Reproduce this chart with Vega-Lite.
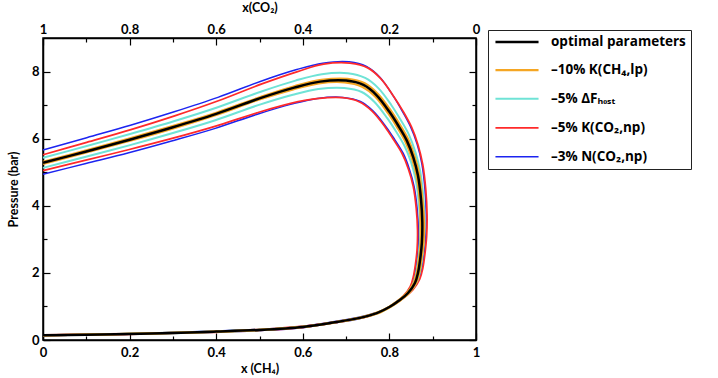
{
"$schema":"https://vega.github.io/schema/vega-lite/v6.json",
"width":433,"height":302,
"autosize":"none",
"padding":{"left":43,"top":38,"right":242,"bottom":38},
"background":"white",
"config":{
 "font":"Lato",
 "view":{"stroke":"black","strokeWidth":1.5},
 "axis":{"grid":false,"labelFont":"Lato","labelFontWeight":"bold","labelFontSize":13,"labelColor":"black","titleFont":"Lato","titleFontWeight":"bold","titleFontSize":12.5,"titleColor":"black","domainColor":"black","domainWidth":1.5,"tickColor":"black","tickWidth":1.2,"labelFlush":false,"labelOverlap":false},
 "legend":{"labelFont":"Open Sans","labelFontWeight":"bold","labelFontSize":13.5,"labelColor":"black"}
},
"data":{"values":[
{"s":"n","c":"n1","i":1,"x":0,"y":5.66},{"s":"n","c":"n1","i":2,"x":0.101,"y":6.03},{"s":"n","c":"n1","i":3,"x":0.202,"y":6.40},{"s":"n","c":"n1","i":4,"x":0.303,"y":6.80},{"s":"n","c":"n1","i":5,"x":0.404,"y":7.23},{"s":"n","c":"n1","i":6,"x":0.505,"y":7.72},{"s":"n","c":"n1","i":7,"x":0.586,"y":8.06},{"s":"n","c":"n1","i":8,"x":0.646,"y":8.25},{"s":"n","c":"n1","i":9,"x":0.707,"y":8.29},{"s":"n","c":"n1","i":10,"x":0.747,"y":8.15},{"s":"n","c":"n1","i":11,"x":0.778,"y":7.83},{"s":"n","c":"n1","i":12,"x":0.808,"y":7.29},{"s":"n","c":"n1","i":13,"x":0.828,"y":6.86},{"s":"n","c":"n1","i":14,"x":0.848,"y":6.38},{"s":"n","c":"n1","i":15,"x":0.864,"y":5.84},{"s":"n","c":"n1","i":16,"x":0.875,"y":5.25},{"s":"n","c":"n1","i":17,"x":0.882,"y":4.50},{"s":"n","c":"n1","i":18,"x":0.885,"y":3.75},{"s":"n","c":"n1","i":19,"x":0.884,"y":3.11},{"s":"n","c":"n1","i":20,"x":0.880,"y":2.57},{"s":"n","c":"n1","i":21,"x":0.875,"y":2.14},{"s":"n","c":"n1","i":22,"x":0.868,"y":1.82},{"s":"n","c":"n1","i":23,"x":0.851,"y":1.50},{"s":"n","c":"n1","i":24,"x":0.832,"y":1.28},{"s":"n","c":"n1","i":25,"x":0.809,"y":1.06},{"s":"n","c":"n1","i":26,"x":0.779,"y":0.86},{"s":"n","c":"n1","i":27,"x":0.739,"y":0.71},{"s":"n","c":"n1","i":28,"x":0.677,"y":0.56},{"s":"n","c":"n1","i":29,"x":0.606,"y":0.42},{"s":"n","c":"n1","i":30,"x":0.505,"y":0.32},{"s":"n","c":"n1","i":31,"x":0.404,"y":0.27},{"s":"n","c":"n1","i":32,"x":0.303,"y":0.23},{"s":"n","c":"n1","i":33,"x":0.202,"y":0.19},{"s":"n","c":"n1","i":34,"x":0.101,"y":0.17},{"s":"n","c":"n1","i":35,"x":0,"y":0.15},
{"s":"n","c":"n2","i":1,"x":0,"y":4.94},{"s":"n","c":"n2","i":2,"x":0.099,"y":5.26},{"s":"n","c":"n2","i":3,"x":0.198,"y":5.58},{"s":"n","c":"n2","i":4,"x":0.297,"y":5.93},{"s":"n","c":"n2","i":5,"x":0.396,"y":6.30},{"s":"n","c":"n2","i":6,"x":0.495,"y":6.73},{"s":"n","c":"n2","i":7,"x":0.574,"y":7.03},{"s":"n","c":"n2","i":8,"x":0.634,"y":7.20},{"s":"n","c":"n2","i":9,"x":0.693,"y":7.23},{"s":"n","c":"n2","i":10,"x":0.733,"y":7.11},{"s":"n","c":"n2","i":11,"x":0.762,"y":6.83},{"s":"n","c":"n2","i":12,"x":0.792,"y":6.36},{"s":"n","c":"n2","i":13,"x":0.812,"y":5.98},{"s":"n","c":"n2","i":14,"x":0.832,"y":5.56},{"s":"n","c":"n2","i":15,"x":0.846,"y":5.10},{"s":"n","c":"n2","i":16,"x":0.857,"y":4.58},{"s":"n","c":"n2","i":17,"x":0.864,"y":3.93},{"s":"n","c":"n2","i":18,"x":0.867,"y":3.27},{"s":"n","c":"n2","i":19,"x":0.866,"y":2.71},{"s":"n","c":"n2","i":20,"x":0.862,"y":2.24},{"s":"n","c":"n2","i":21,"x":0.857,"y":1.87},{"s":"n","c":"n2","i":22,"x":0.850,"y":1.59},{"s":"n","c":"n2","i":23,"x":0.835,"y":1.31},{"s":"n","c":"n2","i":24,"x":0.816,"y":1.11},{"s":"n","c":"n2","i":25,"x":0.793,"y":0.93},{"s":"n","c":"n2","i":26,"x":0.763,"y":0.75},{"s":"n","c":"n2","i":27,"x":0.725,"y":0.62},{"s":"n","c":"n2","i":28,"x":0.663,"y":0.49},{"s":"n","c":"n2","i":29,"x":0.594,"y":0.36},{"s":"n","c":"n2","i":30,"x":0.495,"y":0.28},{"s":"n","c":"n2","i":31,"x":0.396,"y":0.23},{"s":"n","c":"n2","i":32,"x":0.297,"y":0.20},{"s":"n","c":"n2","i":33,"x":0.198,"y":0.17},{"s":"n","c":"n2","i":34,"x":0.099,"y":0.15},{"s":"n","c":"n2","i":35,"x":0,"y":0.13},
{"s":"k","c":"k1","i":1,"x":0,"y":5.52},{"s":"k","c":"k1","i":2,"x":0.101,"y":5.89},{"s":"k","c":"k1","i":3,"x":0.203,"y":6.27},{"s":"k","c":"k1","i":4,"x":0.304,"y":6.68},{"s":"k","c":"k1","i":5,"x":0.405,"y":7.13},{"s":"k","c":"k1","i":6,"x":0.507,"y":7.64},{"s":"k","c":"k1","i":7,"x":0.588,"y":8.00},{"s":"k","c":"k1","i":8,"x":0.648,"y":8.22},{"s":"k","c":"k1","i":9,"x":0.709,"y":8.25},{"s":"k","c":"k1","i":10,"x":0.750,"y":8.11},{"s":"k","c":"k1","i":11,"x":0.780,"y":7.79},{"s":"k","c":"k1","i":12,"x":0.810,"y":7.26},{"s":"k","c":"k1","i":13,"x":0.831,"y":6.83},{"s":"k","c":"k1","i":14,"x":0.851,"y":6.35},{"s":"k","c":"k1","i":15,"x":0.866,"y":5.82},{"s":"k","c":"k1","i":16,"x":0.877,"y":5.23},{"s":"k","c":"k1","i":17,"x":0.884,"y":4.48},{"s":"k","c":"k1","i":18,"x":0.887,"y":3.73},{"s":"k","c":"k1","i":19,"x":0.886,"y":3.09},{"s":"k","c":"k1","i":20,"x":0.882,"y":2.56},{"s":"k","c":"k1","i":21,"x":0.877,"y":2.13},{"s":"k","c":"k1","i":22,"x":0.870,"y":1.81},{"s":"k","c":"k1","i":23,"x":0.854,"y":1.49},{"s":"k","c":"k1","i":24,"x":0.835,"y":1.27},{"s":"k","c":"k1","i":25,"x":0.811,"y":1.06},{"s":"k","c":"k1","i":26,"x":0.781,"y":0.85},{"s":"k","c":"k1","i":27,"x":0.742,"y":0.70},{"s":"k","c":"k1","i":28,"x":0.679,"y":0.55},{"s":"k","c":"k1","i":29,"x":0.608,"y":0.42},{"s":"k","c":"k1","i":30,"x":0.507,"y":0.32},{"s":"k","c":"k1","i":31,"x":0.405,"y":0.26},{"s":"k","c":"k1","i":32,"x":0.304,"y":0.22},{"s":"k","c":"k1","i":33,"x":0.203,"y":0.19},{"s":"k","c":"k1","i":34,"x":0.101,"y":0.17},{"s":"k","c":"k1","i":35,"x":0,"y":0.15},
{"s":"k","c":"k2","i":1,"x":0,"y":5.05},{"s":"k","c":"k2","i":2,"x":0.099,"y":5.36},{"s":"k","c":"k2","i":3,"x":0.197,"y":5.67},{"s":"k","c":"k2","i":4,"x":0.296,"y":6.00},{"s":"k","c":"k2","i":5,"x":0.395,"y":6.36},{"s":"k","c":"k2","i":6,"x":0.494,"y":6.77},{"s":"k","c":"k2","i":7,"x":0.572,"y":7.05},{"s":"k","c":"k2","i":8,"x":0.632,"y":7.19},{"s":"k","c":"k2","i":9,"x":0.691,"y":7.22},{"s":"k","c":"k2","i":10,"x":0.730,"y":7.10},{"s":"k","c":"k2","i":11,"x":0.760,"y":6.82},{"s":"k","c":"k2","i":12,"x":0.790,"y":6.35},{"s":"k","c":"k2","i":13,"x":0.809,"y":5.98},{"s":"k","c":"k2","i":14,"x":0.829,"y":5.56},{"s":"k","c":"k2","i":15,"x":0.844,"y":5.09},{"s":"k","c":"k2","i":16,"x":0.855,"y":4.58},{"s":"k","c":"k2","i":17,"x":0.862,"y":3.92},{"s":"k","c":"k2","i":18,"x":0.865,"y":3.27},{"s":"k","c":"k2","i":19,"x":0.864,"y":2.71},{"s":"k","c":"k2","i":20,"x":0.860,"y":2.24},{"s":"k","c":"k2","i":21,"x":0.855,"y":1.87},{"s":"k","c":"k2","i":22,"x":0.848,"y":1.59},{"s":"k","c":"k2","i":23,"x":0.832,"y":1.31},{"s":"k","c":"k2","i":24,"x":0.813,"y":1.11},{"s":"k","c":"k2","i":25,"x":0.791,"y":0.92},{"s":"k","c":"k2","i":26,"x":0.761,"y":0.75},{"s":"k","c":"k2","i":27,"x":0.722,"y":0.62},{"s":"k","c":"k2","i":28,"x":0.661,"y":0.49},{"s":"k","c":"k2","i":29,"x":0.592,"y":0.36},{"s":"k","c":"k2","i":30,"x":0.494,"y":0.28},{"s":"k","c":"k2","i":31,"x":0.395,"y":0.23},{"s":"k","c":"k2","i":32,"x":0.296,"y":0.20},{"s":"k","c":"k2","i":33,"x":0.197,"y":0.17},{"s":"k","c":"k2","i":34,"x":0.099,"y":0.15},{"s":"k","c":"k2","i":35,"x":0,"y":0.13},
{"s":"d","c":"d1","i":1,"x":0,"y":5.43},{"s":"d","c":"d1","i":2,"x":0.101,"y":5.78},{"s":"d","c":"d1","i":3,"x":0.201,"y":6.14},{"s":"d","c":"d1","i":4,"x":0.302,"y":6.52},{"s":"d","c":"d1","i":5,"x":0.402,"y":6.93},{"s":"d","c":"d1","i":6,"x":0.503,"y":7.40},{"s":"d","c":"d1","i":7,"x":0.583,"y":7.73},{"s":"d","c":"d1","i":8,"x":0.644,"y":7.92},{"s":"d","c":"d1","i":9,"x":0.704,"y":7.95},{"s":"d","c":"d1","i":10,"x":0.744,"y":7.81},{"s":"d","c":"d1","i":11,"x":0.775,"y":7.50},{"s":"d","c":"d1","i":12,"x":0.805,"y":6.99},{"s":"d","c":"d1","i":13,"x":0.825,"y":6.58},{"s":"d","c":"d1","i":14,"x":0.845,"y":6.12},{"s":"d","c":"d1","i":15,"x":0.860,"y":5.60},{"s":"d","c":"d1","i":16,"x":0.871,"y":5.04},{"s":"d","c":"d1","i":17,"x":0.878,"y":4.32},{"s":"d","c":"d1","i":18,"x":0.881,"y":3.60},{"s":"d","c":"d1","i":19,"x":0.880,"y":2.98},{"s":"d","c":"d1","i":20,"x":0.876,"y":2.47},{"s":"d","c":"d1","i":21,"x":0.871,"y":2.06},{"s":"d","c":"d1","i":22,"x":0.864,"y":1.75},{"s":"d","c":"d1","i":23,"x":0.848,"y":1.44},{"s":"d","c":"d1","i":24,"x":0.829,"y":1.22},{"s":"d","c":"d1","i":25,"x":0.806,"y":1.02},{"s":"d","c":"d1","i":26,"x":0.776,"y":0.82},{"s":"d","c":"d1","i":27,"x":0.736,"y":0.68},{"s":"d","c":"d1","i":28,"x":0.674,"y":0.53},{"s":"d","c":"d1","i":29,"x":0.604,"y":0.40},{"s":"d","c":"d1","i":30,"x":0.503,"y":0.31},{"s":"d","c":"d1","i":31,"x":0.402,"y":0.26},{"s":"d","c":"d1","i":32,"x":0.302,"y":0.22},{"s":"d","c":"d1","i":33,"x":0.201,"y":0.19},{"s":"d","c":"d1","i":34,"x":0.101,"y":0.16},{"s":"d","c":"d1","i":35,"x":0,"y":0.14},
{"s":"d","c":"d2","i":1,"x":0,"y":5.13},{"s":"d","c":"d2","i":2,"x":0.099,"y":5.46},{"s":"d","c":"d2","i":3,"x":0.199,"y":5.80},{"s":"d","c":"d2","i":4,"x":0.298,"y":6.16},{"s":"d","c":"d2","i":5,"x":0.398,"y":6.55},{"s":"d","c":"d2","i":6,"x":0.497,"y":7.00},{"s":"d","c":"d2","i":7,"x":0.577,"y":7.31},{"s":"d","c":"d2","i":8,"x":0.636,"y":7.48},{"s":"d","c":"d2","i":9,"x":0.696,"y":7.51},{"s":"d","c":"d2","i":10,"x":0.736,"y":7.39},{"s":"d","c":"d2","i":11,"x":0.765,"y":7.10},{"s":"d","c":"d2","i":12,"x":0.795,"y":6.61},{"s":"d","c":"d2","i":13,"x":0.815,"y":6.22},{"s":"d","c":"d2","i":14,"x":0.835,"y":5.78},{"s":"d","c":"d2","i":15,"x":0.850,"y":5.30},{"s":"d","c":"d2","i":16,"x":0.861,"y":4.76},{"s":"d","c":"d2","i":17,"x":0.868,"y":4.08},{"s":"d","c":"d2","i":18,"x":0.871,"y":3.40},{"s":"d","c":"d2","i":19,"x":0.870,"y":2.82},{"s":"d","c":"d2","i":20,"x":0.866,"y":2.33},{"s":"d","c":"d2","i":21,"x":0.861,"y":1.94},{"s":"d","c":"d2","i":22,"x":0.854,"y":1.65},{"s":"d","c":"d2","i":23,"x":0.838,"y":1.36},{"s":"d","c":"d2","i":24,"x":0.819,"y":1.16},{"s":"d","c":"d2","i":25,"x":0.796,"y":0.96},{"s":"d","c":"d2","i":26,"x":0.766,"y":0.78},{"s":"d","c":"d2","i":27,"x":0.728,"y":0.64},{"s":"d","c":"d2","i":28,"x":0.666,"y":0.51},{"s":"d","c":"d2","i":29,"x":0.596,"y":0.38},{"s":"d","c":"d2","i":30,"x":0.497,"y":0.29},{"s":"d","c":"d2","i":31,"x":0.398,"y":0.24},{"s":"d","c":"d2","i":32,"x":0.298,"y":0.20},{"s":"d","c":"d2","i":33,"x":0.199,"y":0.18},{"s":"d","c":"d2","i":34,"x":0.099,"y":0.16},{"s":"d","c":"d2","i":35,"x":0,"y":0.14},
{"s":"c","c":"c1","i":1,"x":0,"y":5.31},{"s":"c","c":"c1","i":2,"x":0.100,"y":5.65},{"s":"c","c":"c1","i":3,"x":0.201,"y":6.01},{"s":"c","c":"c1","i":4,"x":0.301,"y":6.38},{"s":"c","c":"c1","i":5,"x":0.402,"y":6.78},{"s":"c","c":"c1","i":6,"x":0.502,"y":7.24},{"s":"c","c":"c1","i":7,"x":0.582,"y":7.57},{"s":"c","c":"c1","i":8,"x":0.643,"y":7.75},{"s":"c","c":"c1","i":9,"x":0.703,"y":7.78},{"s":"c","c":"c1","i":10,"x":0.743,"y":7.65},{"s":"c","c":"c1","i":11,"x":0.773,"y":7.34},{"s":"c","c":"c1","i":12,"x":0.803,"y":6.84},{"s":"c","c":"c1","i":13,"x":0.823,"y":6.44},{"s":"c","c":"c1","i":14,"x":0.843,"y":5.99},{"s":"c","c":"c1","i":15,"x":0.858,"y":5.48},{"s":"c","c":"c1","i":16,"x":0.869,"y":4.93},{"s":"c","c":"c1","i":17,"x":0.876,"y":4.23},{"s":"c","c":"c1","i":18,"x":0.880,"y":3.52},{"s":"c","c":"c1","i":19,"x":0.879,"y":2.92},{"s":"c","c":"c1","i":20,"x":0.874,"y":2.41},{"s":"c","c":"c1","i":21,"x":0.869,"y":2.01},{"s":"c","c":"c1","i":22,"x":0.862,"y":1.71},{"s":"c","c":"c1","i":23,"x":0.846,"y":1.41},{"s":"c","c":"c1","i":24,"x":0.827,"y":1.20},{"s":"c","c":"c1","i":25,"x":0.804,"y":1.00},{"s":"c","c":"c1","i":26,"x":0.774,"y":0.80},{"s":"c","c":"c1","i":27,"x":0.735,"y":0.66},{"s":"c","c":"c1","i":28,"x":0.673,"y":0.52},{"s":"c","c":"c1","i":29,"x":0.602,"y":0.39},{"s":"c","c":"c1","i":30,"x":0.502,"y":0.30},{"s":"c","c":"c1","i":31,"x":0.402,"y":0.25},{"s":"c","c":"c1","i":32,"x":0.301,"y":0.21},{"s":"c","c":"c1","i":33,"x":0.201,"y":0.18},{"s":"c","c":"c1","i":34,"x":0.100,"y":0.16},{"s":"c","c":"c1","i":35,"x":0,"y":0.14},
{"s":"c","c":"c2","i":1,"x":0,"y":5.25},{"s":"c","c":"c2","i":2,"x":0.100,"y":5.59},{"s":"c","c":"c2","i":3,"x":0.199,"y":5.93},{"s":"c","c":"c2","i":4,"x":0.299,"y":6.30},{"s":"c","c":"c2","i":5,"x":0.398,"y":6.70},{"s":"c","c":"c2","i":6,"x":0.498,"y":7.16},{"s":"c","c":"c2","i":7,"x":0.578,"y":7.47},{"s":"c","c":"c2","i":8,"x":0.637,"y":7.65},{"s":"c","c":"c2","i":9,"x":0.697,"y":7.68},{"s":"c","c":"c2","i":10,"x":0.737,"y":7.55},{"s":"c","c":"c2","i":11,"x":0.767,"y":7.26},{"s":"c","c":"c2","i":12,"x":0.797,"y":6.76},{"s":"c","c":"c2","i":13,"x":0.817,"y":6.36},{"s":"c","c":"c2","i":14,"x":0.837,"y":5.91},{"s":"c","c":"c2","i":15,"x":0.852,"y":5.42},{"s":"c","c":"c2","i":16,"x":0.863,"y":4.87},{"s":"c","c":"c2","i":17,"x":0.870,"y":4.17},{"s":"c","c":"c2","i":18,"x":0.872,"y":3.48},{"s":"c","c":"c2","i":19,"x":0.872,"y":2.88},{"s":"c","c":"c2","i":20,"x":0.868,"y":2.39},{"s":"c","c":"c2","i":21,"x":0.863,"y":1.99},{"s":"c","c":"c2","i":22,"x":0.856,"y":1.69},{"s":"c","c":"c2","i":23,"x":0.840,"y":1.39},{"s":"c","c":"c2","i":24,"x":0.821,"y":1.18},{"s":"c","c":"c2","i":25,"x":0.798,"y":0.98},{"s":"c","c":"c2","i":26,"x":0.768,"y":0.80},{"s":"c","c":"c2","i":27,"x":0.729,"y":0.66},{"s":"c","c":"c2","i":28,"x":0.667,"y":0.52},{"s":"c","c":"c2","i":29,"x":0.598,"y":0.39},{"s":"c","c":"c2","i":30,"x":0.498,"y":0.30},{"s":"c","c":"c2","i":31,"x":0.398,"y":0.25},{"s":"c","c":"c2","i":32,"x":0.299,"y":0.21},{"s":"c","c":"c2","i":33,"x":0.199,"y":0.18},{"s":"c","c":"c2","i":34,"x":0.100,"y":0.16},{"s":"c","c":"c2","i":35,"x":0,"y":0.14},
{"s":"o","c":"o1","i":1,"x":0,"y":5.28},{"s":"o","c":"o1","i":2,"x":0.1,"y":5.62},{"s":"o","c":"o1","i":3,"x":0.2,"y":5.97},{"s":"o","c":"o1","i":4,"x":0.3,"y":6.34},{"s":"o","c":"o1","i":5,"x":0.4,"y":6.74},{"s":"o","c":"o1","i":6,"x":0.5,"y":7.2},{"s":"o","c":"o1","i":7,"x":0.58,"y":7.52},{"s":"o","c":"o1","i":8,"x":0.64,"y":7.7},{"s":"o","c":"o1","i":9,"x":0.7,"y":7.73},{"s":"o","c":"o1","i":10,"x":0.74,"y":7.6},{"s":"o","c":"o1","i":11,"x":0.77,"y":7.3},{"s":"o","c":"o1","i":12,"x":0.8,"y":6.8},{"s":"o","c":"o1","i":13,"x":0.82,"y":6.4},{"s":"o","c":"o1","i":14,"x":0.84,"y":5.95},{"s":"o","c":"o1","i":15,"x":0.855,"y":5.45},{"s":"o","c":"o1","i":16,"x":0.866,"y":4.9},{"s":"o","c":"o1","i":17,"x":0.873,"y":4.2},{"s":"o","c":"o1","i":18,"x":0.876,"y":3.5},{"s":"o","c":"o1","i":19,"x":0.875,"y":2.9},{"s":"o","c":"o1","i":20,"x":0.871,"y":2.4},{"s":"o","c":"o1","i":21,"x":0.866,"y":2.0},{"s":"o","c":"o1","i":22,"x":0.859,"y":1.7},{"s":"o","c":"o1","i":23,"x":0.843,"y":1.4},{"s":"o","c":"o1","i":24,"x":0.824,"y":1.19},{"s":"o","c":"o1","i":25,"x":0.801,"y":0.99},{"s":"o","c":"o1","i":26,"x":0.771,"y":0.8},{"s":"o","c":"o1","i":27,"x":0.732,"y":0.66},{"s":"o","c":"o1","i":28,"x":0.67,"y":0.52},{"s":"o","c":"o1","i":29,"x":0.6,"y":0.39},{"s":"o","c":"o1","i":30,"x":0.5,"y":0.3},{"s":"o","c":"o1","i":31,"x":0.4,"y":0.25},{"s":"o","c":"o1","i":32,"x":0.3,"y":0.21},{"s":"o","c":"o1","i":33,"x":0.2,"y":0.18},{"s":"o","c":"o1","i":34,"x":0.1,"y":0.16},{"s":"o","c":"o1","i":35,"x":0,"y":0.14}
]},
"layer":[
 {"mark":{"type":"line","interpolate":"catmull-rom"},
  "encoding":{
   "x":{"field":"x","type":"quantitative","scale":{"domain":[0,1],"nice":false,"zero":false},
     "axis":{"orient":"bottom","title":"x (CH₄)","values":[0,0.1,0.2,0.3,0.4,0.5,0.6,0.7,0.8,0.9,1],
       "labelExpr":"round(datum.value*10)%2==0 ? format(datum.value,'~g') : ''",
       "tickSize":{"condition":{"test":"round(datum.value*10)%2==0","value":-7},"value":-4},
       "labelPadding":13,"titlePadding":0}},
   "y":{"field":"y","type":"quantitative","scale":{"domain":[0,9],"nice":false,"zero":false},
     "axis":{"orient":"left","title":"Pressure (bar)","values":[0,1,2,3,4,5,6,7,8],
       "labelExpr":"datum.value%2==0 ? format(datum.value,'~g') : ''",
       "tickSize":{"condition":{"test":"datum.value%2==0","value":-7},"value":-4},
       "labelPadding":11,"titlePadding":11}},
   "detail":{"field":"c","type":"nominal"},
   "order":{"field":"i","type":"quantitative"},
   "color":{"field":"s","type":"nominal",
     "scale":{"domain":["o","c","d","k","n"],"range":["#000000","#f5a623","#6fe3d6","#ff2a2a","#1c24f0"]},
     "legend":{"orient":"none","legendX":445,"legendY":-8,"title":null,"symbolType":"M-4,0H4","symbolSize":116,"symbolStrokeWidth":2,"symbolOffset":17,
       "strokeColor":"#222222","fillColor":"white","padding":5,"rowPadding":14,"labelOffset":27,"labelLimit":300,
       "labelExpr":"datum.label=='o' ? 'optimal parameters' : datum.label=='c' ? '–10% K(CH₄,lp)' : datum.label=='d' ? '–5% ΔFₕₒₛₜ' : datum.label=='k' ? '–5% K(CO₂,np)' : '–3% N(CO₂,np)'"}},
   "strokeWidth":{"field":"s","type":"nominal","scale":{"domain":["o","c","d","k","n"],"range":[2.5,1.5,1.5,1.5,1.5]},"legend":null}
  }},
 {"mark":{"type":"line","opacity":0},
  "encoding":{
   "x":{"field":"x","type":"quantitative",
     "axis":{"orient":"top","title":"x(CO₂)","values":[0,0.1,0.2,0.3,0.4,0.5,0.6,0.7,0.8,0.9,1],
       "labelExpr":"round(datum.value*10)%2==0 ? format(1-datum.value,'.1~f') : ''",
       "tickSize":{"condition":{"test":"round(datum.value*10)%2==0","value":-7},"value":-4},
       "labelPadding":9,"titlePadding":6}},
   "y":{"field":"y","type":"quantitative",
     "axis":{"orient":"right","title":null,"labels":false,"values":[0,1,2,3,4,5,6,7,8],
       "tickSize":{"condition":{"test":"datum.value%2==0","value":-7},"value":-4}}}
  }}
],
"resolve":{"axis":{"x":"independent","y":"independent"}}
}
